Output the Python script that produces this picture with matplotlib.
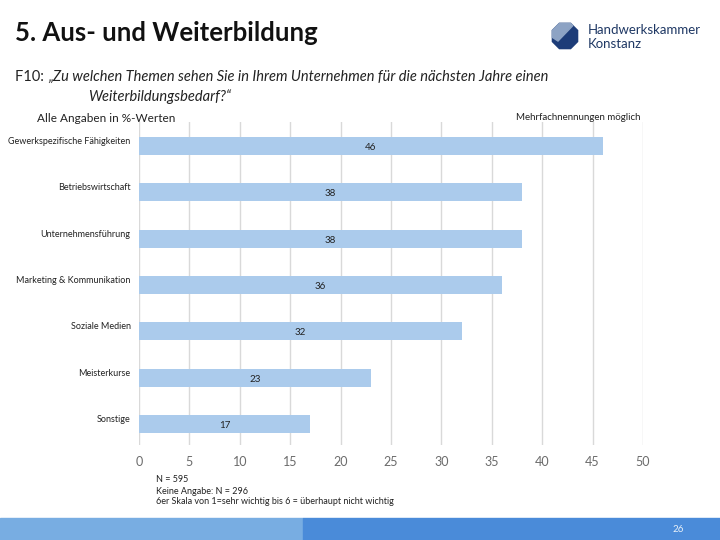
import matplotlib
matplotlib.use("Agg")
import matplotlib.pyplot as plt
from matplotlib.patches import Polygon, Rectangle

plt.rcParams["font.family"] = ["Lato", "DejaVu Sans"]

categories = [
    "Gewerkspezifische Fähigkeiten",
    "Betriebswirtschaft",
    "Unternehmensführung",
    "Marketing & Kommunikation",
    "Soziale Medien",
    "Meisterkurse",
    "Sonstige",
]
values = [46, 38, 38, 36, 32, 23, 17]
x_ticks = [0, 5, 10, 15, 20, 25, 30, 35, 40, 45, 50]
footnotes = [
    "N = 595",
    "Keine Angabe: N = 296",
    "6er Skala von 1=sehr wichtig bis 6 = überhaupt nicht wichtig",
]

bar_color = "#abcbec"
navy = "#1f3864"

fig = plt.figure(figsize=(7.2, 5.4), dpi=100)

# header
fig.text(15 / 720, 1 - 33 / 540, "5. Aus- und Weiterbildung", fontsize=18.5,
         weight="bold", color="#111111", va="center", ha="left")
fig.text(15 / 720, 1 - 77 / 540, "F10: ", fontsize=10.5, va="center", ha="left",
         color="#222222")
fig.text(48 / 720, 1 - 77 / 540,
         "„Zu welchen Themen sehen Sie in Ihrem Unternehmen für die nächsten Jahre einen",
         fontsize=10.5, style="italic", va="center", ha="left", color="#222222")
fig.text(88 / 720, 1 - 97 / 540, "Weiterbildungsbedarf?“", fontsize=10.5,
         style="italic", va="center", ha="left", color="#222222")

# logo
logo = fig.add_axes([551 / 720, 1 - 50 / 540, 28 / 720, 28 / 540])
logo.set_xlim(0, 1)
logo.set_ylim(0, 1)
logo.axis("off")
octa = [(0.3, 0.05), (0.7, 0.05), (0.95, 0.3), (0.95, 0.7), (0.7, 0.95),
        (0.3, 0.95), (0.05, 0.7), (0.05, 0.3)]
logo.add_patch(Polygon(octa, closed=True, color="#1d3c78"))
logo.add_patch(Polygon([(0.3, 0.95), (0.7, 0.95), (0.78, 0.87), (0.25, 0.32),
                        (0.05, 0.45), (0.05, 0.7)], closed=True, color="#8da3c4"))
fig.text(588 / 720, 1 - 30 / 540, "Handwerkskammer", fontsize=9.5, color=navy,
         va="center", ha="left")
fig.text(588 / 720, 1 - 44 / 540, "Konstanz", fontsize=9.5, color=navy,
         va="center", ha="left")

# chart
ax = fig.add_axes([139 / 720, 1 - 445 / 540, 504 / 720, 323 / 540])
pos = list(range(len(categories)))
ax.barh(pos, values, height=0.39, color=bar_color, zorder=2)
for p, v in zip(pos, values):
    ax.text(v / 2, p + 0.03, str(v), ha="center", va="center", fontsize=7,
            color="#222222", zorder=3)
ax.set_xlim(0, 50)
ax.set_ylim(6.45, -0.52)
ax.set_xticks(x_ticks)
ax.set_yticks(pos)
ax.set_yticklabels(categories, fontsize=6.5, color="#222222")
ax.tick_params(axis="x", colors="#6b6b6b", labelsize=9, length=0, pad=8)
ax.tick_params(axis="y", length=0, pad=6)
for lbl in ax.get_yticklabels():
    lbl.set_verticalalignment("bottom")
ax.grid(axis="x", color="#d9d9d9", linewidth=1, zorder=0)
for s in ax.spines.values():
    s.set_visible(False)

fig.text(37 / 720, 1 - 118 / 540, "Alle Angaben in %-Werten", fontsize=8.5,
         va="center", ha="left", color="#222222")
fig.text(640 / 720, 1 - 118 / 540, "Mehrfachnennungen möglich", fontsize=7,
         va="center", ha="right", color="#222222")

for i, line in enumerate(footnotes):
    fig.text(156 / 720, 1 - (480 + 11 * i) / 540, line, fontsize=6.5,
             va="center", ha="left", color="#222222")

# footer band
fig.add_artist(Rectangle((0, 0), 303 / 720, 22 / 540, transform=fig.transFigure,
                         color="#78ade2"))
fig.add_artist(Rectangle((303 / 720, 0), 417 / 720, 22 / 540,
                         transform=fig.transFigure, color="#4a8bd9"))
fig.text(678 / 720, 10 / 540, "26", fontsize=7, color="#e8f0f8", ha="center",
         va="center")

fig.savefig("out.png", dpi=100)
